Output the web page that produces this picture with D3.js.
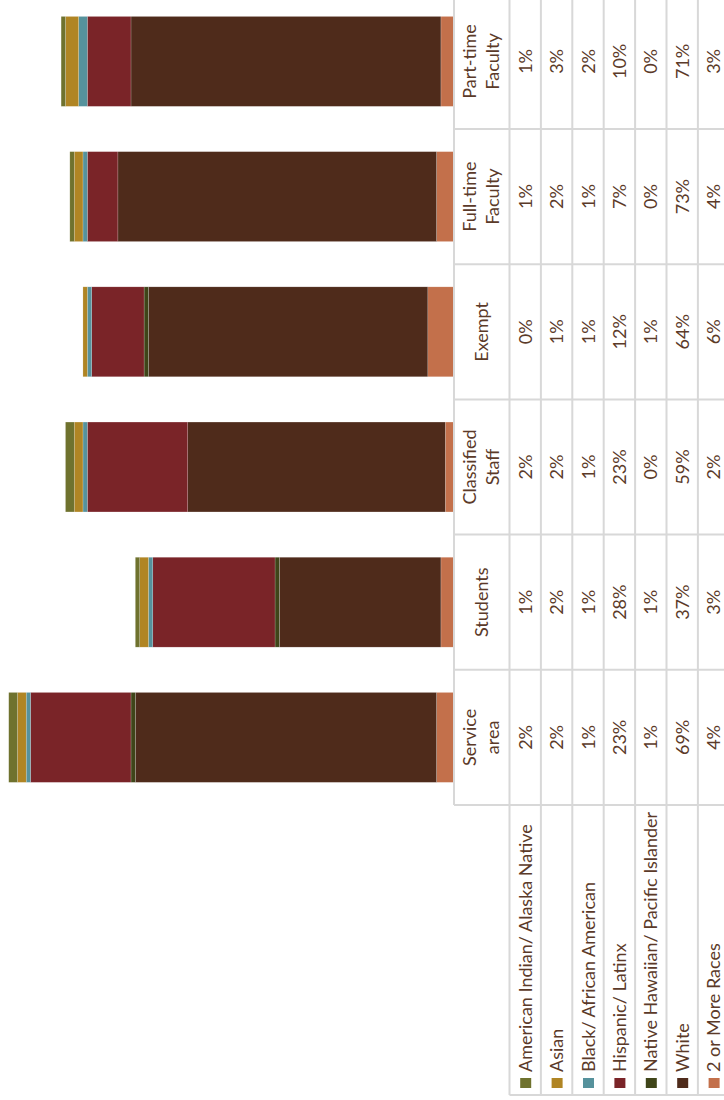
<!DOCTYPE html>
<html>
<head>
<meta charset="utf-8">
<script src="https://cdn.jsdelivr.net/npm/d3@7"></script>
<style>
  body { margin: 0; background: #fff; }
  text { font-family: Lato, "Open Sans", sans-serif; fill: #5b3a29; }
</style>
</head>
<body>
<svg id="drawing_region"></svg>
<script>
var categories = ['Service area', 'Students', 'Classified Staff', 'Exempt', 'Full-time Faculty', 'Part-time Faculty'];
var seriesNames = ['American Indian/ Alaska Native', 'Asian', 'Black/ African American', 'Hispanic/ Latinx',
                   'Native Hawaiian/ Pacific Islander', 'White', '2 or More Races'];
var amInd    = [2, 1, 2, 0, 1, 1];
var asian    = [2, 2, 2, 1, 2, 3];
var black    = [1, 1, 1, 1, 1, 2];
var hispanic = [23, 28, 23, 12, 7, 10];
var nhpi     = [1, 1, 0, 1, 0, 0];
var white    = [69, 37, 59, 64, 73, 71];
var multi    = [4, 3, 2, 6, 4, 3];
var values = [amInd, asian, black, hispanic, nhpi, white, multi];
var colors = ['#6f722e', '#b08524', '#56929c', '#7a2428', '#3f4519', '#4f2b1b', '#c3704b'];

var width = 724;
var height = 1100;
// the chart is laid out upright in a 1100 x 724 frame, then turned a quarter left
var tableLeft = 295, colStep = 135.2;
var baseY = 454;
var headH = 55.5, rowH = 31.4;
var gridColor = '#d8d8d8';
var fs = 18;

svg = d3.select('#drawing_region')
    .attr('width', width)
    .attr('height', height);

chart = svg.append('g')
    .attr('transform', `translate(0, ${height}) rotate(-90)`);

var rows = categories.map((c, i) => {
    var r = {cat: c};
    seriesNames.forEach((s, j) => r[s] = values[j][i]);
    return r;
});

xscale = d3.scaleBand()
    .domain(categories)
    .range([tableLeft, tableLeft + colStep * categories.length])
    .paddingInner(0.335)
    .paddingOuter(0.1675);

yscale = d3.scaleLinear()
    .domain([0, 104])
    .range([baseY, 0]);

rowscale = d3.scaleBand()
    .domain(seriesNames)
    .range([baseY + headH, baseY + headH + rowH * seriesNames.length]);

color = d3.scaleOrdinal()
    .domain(seriesNames)
    .range(colors);

// stacked bars, "2 or More Races" sits on the baseline
var stacked = d3.stack().keys(seriesNames.slice().reverse())(rows);

chart.append('g').selectAll('g')
    .data(stacked)
    .join('g')
    .attr('fill', d => color(d.key))
    .selectAll('rect')
    .data(d => d)
    .join('rect')
    .attr('x', d => xscale(d.data.cat))
    .attr('y', d => yscale(d[1]))
    .attr('width', xscale.bandwidth())
    .attr('height', d => yscale(d[0]) - yscale(d[1]))
    .attr('stroke', '#fff')
    .attr('stroke-opacity', 0.35)
    .attr('stroke-width', 0.5);

// data table grid
var x0 = xscale.range()[0], x1 = xscale.range()[1];
var colEdges = d3.range(categories.length + 1).map(i => x0 + i * xscale.step());
var rowEdges = d3.range(seriesNames.length + 1).map(i => rowscale.range()[0] + i * rowscale.step());
var bottom = rowEdges[rowEdges.length - 1];
var grid = chart.append('g')
    .attr('stroke', gridColor)
    .attr('stroke-width', 2);

grid.append('line')
    .attr('x1', x0).attr('x2', x1)
    .attr('y1', baseY).attr('y2', baseY);
grid.selectAll('.hrow')
    .data(rowEdges)
    .join('line')
    .attr('class', 'hrow')
    .attr('x1', 5).attr('x2', x1)
    .attr('y1', d => d).attr('y2', d => d);
grid.selectAll('.vcol')
    .data(colEdges)
    .join('line')
    .attr('class', 'vcol')
    .attr('x1', d => d).attr('x2', d => d)
    .attr('y1', baseY).attr('y2', bottom);
grid.append('line')
    .attr('x1', 5).attr('x2', 5)
    .attr('y1', rowEdges[0]).attr('y2', bottom);

// header labels
var hy = baseY + headH / 2 + 6;
chart.append('g').selectAll('text')
    .data(categories)
    .join('text')
    .attr('text-anchor', 'middle')
    .attr('font-size', fs)
    .each(function(c) {
        var words = c.split(' ');
        d3.select(this).selectAll('tspan')
            .data(words)
            .join('tspan')
            .attr('x', xscale(c) + xscale.bandwidth() / 2)
            .attr('y', (w, i) => hy + (i - (words.length - 1) / 2) * 23)
            .text(w => w);
    });

// value cells
seriesNames.forEach((s, j) => {
    chart.append('g').selectAll('text')
        .data(rows)
        .join('text')
        .attr('text-anchor', 'middle')
        .attr('font-size', fs)
        .attr('x', d => xscale(d.cat) + xscale.bandwidth() / 2)
        .attr('y', rowscale(s) + rowscale.bandwidth() / 2 + 6.5)
        .text(d => d[s] + '%');
});

// legend keys in the first table column
var leg = chart.append('g').selectAll('g')
    .data(seriesNames)
    .join('g')
    .attr('transform', d => `translate(0, ${rowscale(d) + rowscale.bandwidth() / 2})`);
leg.append('rect')
    .attr('x', 12).attr('y', -5)
    .attr('width', 10).attr('height', 11)
    .attr('fill', d => color(d));
leg.append('text')
    .attr('x', 28).attr('y', 6.5)
    .attr('font-size', fs)
    .text(d => d);
</script>
</body>
</html>
